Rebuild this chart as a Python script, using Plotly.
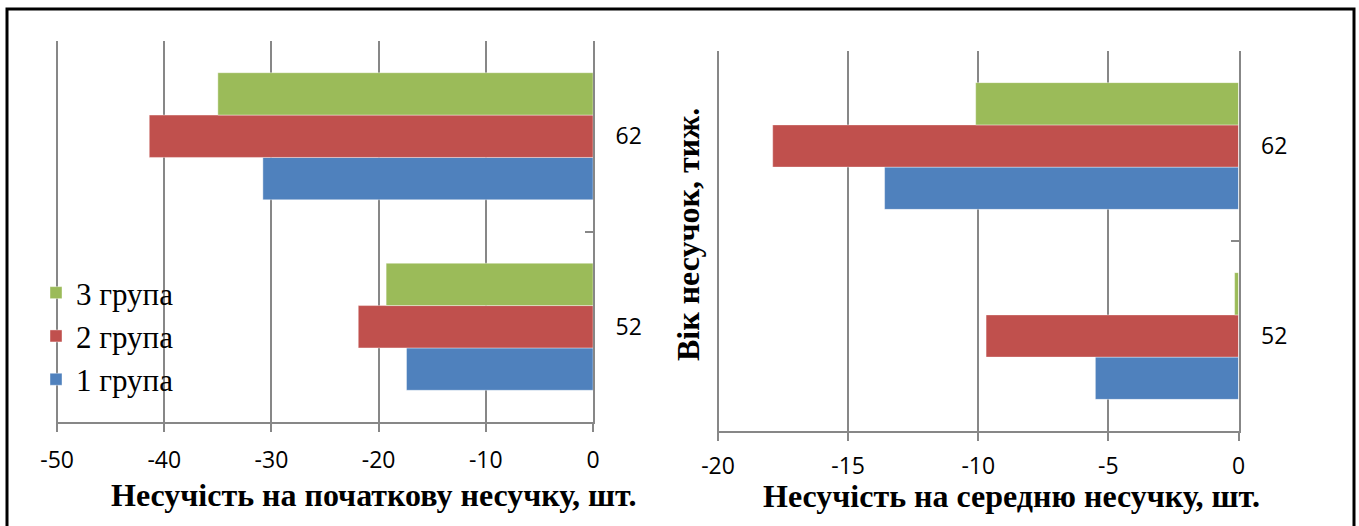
import plotly.graph_objects as go

W, H = 1359, 526

ages = ["52", "62"]
groups = ["1 група", "2 група", "3 група"]
colors = ["#4F81BD", "#C0504D", "#9BBB59"]

# несучість на початкову несучку
initial = {
    "1 група": [-17.4, -30.8],
    "2 група": [-21.9, -41.4],
    "3 група": [-19.3, -35.0],
}
# несучість на середню несучку
average = {
    "1 група": [-5.5, -13.6],
    "2 група": [-9.7, -17.9],
    "3 група": [-0.15, -10.1],
}

left_ticks = [-50, -40, -30, -20, -10, 0]
left_labels = ["-50", "-40", "-30", "-20", "-10", "0"]
right_ticks = [-20, -15, -10, -5, 0]
right_labels = ["-20", "-15", "-10", "-5", "0"]

GRID = "#878787"
TICK_FONT = dict(family="Open Sans", size=23, color="#000000")
TITLE_FONT = dict(family="Liberation Serif", size=32, color="#000000")


def px_x(p):
    return p / W


def px_y(p):
    return 1 - p / H


fig = go.Figure()
for g, c in zip(groups, colors):
    fig.add_trace(go.Bar(
        y=ages, x=initial[g], orientation="h", name=g, marker_color=c,
        marker_line=dict(color="rgba(255,255,255,0.4)", width=1),
        xaxis="x", yaxis="y",
    ))
for g, c in zip(groups, colors):
    fig.add_trace(go.Bar(
        y=ages, x=average[g], orientation="h", name=g, marker_color=c,
        marker_line=dict(color="rgba(255,255,255,0.4)", width=1),
        xaxis="x2", yaxis="y2", showlegend=False,
    ))

xaxis_common = dict(
    showgrid=True, gridcolor=GRID, gridwidth=2, zeroline=False,
    showline=True, linecolor=GRID, linewidth=2,
    ticks="outside", ticklen=8, tickwidth=2, tickcolor=GRID,
    tickfont=TICK_FONT, automargin=False, fixedrange=True,
)
yaxis_common = dict(
    type="category", categoryorder="array", categoryarray=ages,
    side="right", showline=True, linecolor=GRID, linewidth=2,
    ticks="inside", ticklen=8, tickwidth=2, tickcolor=GRID,
    tickson="boundaries", showgrid=False, zeroline=False,
    tickfont=TICK_FONT, ticklabelstandoff=16, automargin=False, fixedrange=True,
)

fig.update_layout(
    width=W, height=H,
    margin=dict(l=0, r=0, t=0, b=0, autoexpand=False),
    paper_bgcolor="white", plot_bgcolor="white",
    barmode="group", bargap=0.333, bargroupgap=0,
    xaxis=dict(domain=[px_x(56), px_x(593)], range=[-50.1, 0],
               tickvals=left_ticks, ticktext=left_labels, anchor="y",
               ticklabelstandoff=8, **xaxis_common),
    yaxis=dict(domain=[px_y(422), px_y(41)], anchor="x", **yaxis_common),
    xaxis2=dict(domain=[px_x(717), px_x(1238.5)], range=[-20.04, 0],
                tickvals=right_ticks, ticktext=right_labels, anchor="y2",
                ticklabelstandoff=5, **xaxis_common),
    yaxis2=dict(domain=[px_y(431), px_y(51)], anchor="x2", **yaxis_common),
    legend=dict(
        x=px_x(36), y=px_y(266), xanchor="left", yanchor="top",
        traceorder="reversed", bgcolor="rgba(0,0,0,0)",
        font=dict(family="Liberation Serif", size=31, color="#000000"),
        itemclick=False, itemdoubleclick=False,
    ),
    annotations=[
        dict(text="<b>Несучість на початкову несучку, шт.</b>",
             x=px_x(373), y=px_y(495), xref="paper", yref="paper",
             xanchor="center", yanchor="middle",
             showarrow=False, font=TITLE_FONT),
        dict(text="<b>Несучість на середню несучку, шт.</b>",
             x=px_x(1012), y=px_y(496), xref="paper", yref="paper",
             xanchor="center", yanchor="middle",
             showarrow=False, font=TITLE_FONT),
        dict(text="<b>Вік несучок, тиж.</b>", textangle=-90,
             x=px_x(688), y=px_y(234), xref="paper", yref="paper",
             xanchor="center", yanchor="middle",
             showarrow=False, font=TITLE_FONT),
    ],
    shapes=[
        dict(type="path", xref="paper", yref="paper",
             path=f"M {px_x(7)} {px_y(540)} L {px_x(7)} {px_y(9)} "
                  f"L {px_x(1354)} {px_y(9)} L {px_x(1354)} {px_y(540)}",
             line=dict(color="#000000", width=3)),
    ],
)

fig.write_html(
    "out.html",
    config={"displayModeBar": False, "staticPlot": True},
    post_script="document.body.style.margin='0';document.body.style.overflow='hidden';",
)
